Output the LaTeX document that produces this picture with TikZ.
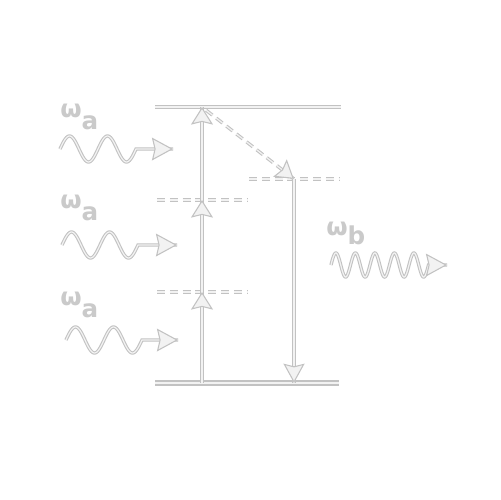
\documentclass[tikz,border=0pt]{standalone}
\usepackage{fontspec}
\newfontfamily\lblfont{DejaVu Sans}
\usetikzlibrary{arrows.meta,decorations.markings}
\definecolor{lineC}{RGB}{194,194,194}
\definecolor{fillC}{RGB}{242,242,242}
\definecolor{textC}{RGB}{202,202,202}
\tikzset{
  dline/.style={draw=lineC, line width=0.6pt, double=fillC, double distance=0.7pt},
  groundline/.style={dline, double distance=1.7pt},
  dashline/.style={dline, dash pattern=on 4.5pt off 2.8pt},
  headend/.style 2 args={decoration={markings, mark=at position 1 with
      {\pgfsetinnerlinewidth{0pt}\arrow[solid, lineC, line width=0.6pt]{Stealth[length=#1, width=#2, inset=1.5pt, fill=fillC]}}},
    postaction={decorate}},
  freq/.style={text=textC, font=\lblfont\bfseries\fontsize{14}{14}\selectfont, inner sep=0pt, anchor=base west},
}
\begin{document}
\begin{tikzpicture}[x=0.02cm, y=-0.02cm]
\path[fill=white] (0,0) rectangle (500,500);
\useasboundingbox (0,0) rectangle (500,500);
% energy levels
\draw[groundline] (155,383) -- (339,383);
\draw[dline] (155,107) -- (341,107);
\draw[dashline] (249,179) -- (340,179);
\draw[dashline] (157,200) -- (247,200);
\draw[dashline] (157,292) -- (247,292);
% three-step absorption
\coordinate (g1) at (202,383);
\coordinate (v1) at (202,292);
\coordinate (v2) at (202,200);
\coordinate (top) at (202,107);
\coordinate (e1) at (294,179);
\coordinate (g2) at (294,383);
\draw[dline, headend={10pt}{12.5pt}] (g1) -- (v1);
\draw[dline, headend={10pt}{12.5pt}] (v1) -- (v2);
\draw[dline, headend={10pt}{12.5pt}] (v2) -- (top);
% relaxation, then emission
\draw[dashline, headend={10pt}{12.5pt}, shorten <=3pt] (top) -- (e1);
\draw[dline, headend={11pt}{12pt}] (e1) -- (g2);
% incoming photons
\foreach \n/\xs/\yc/\xt in {1/60/149/173, 2/62/245/177, 3/66/340/178} {
  \coordinate (tip\n) at (\xt,\yc);
  \draw[dline, headend={12pt}{13pt}] plot[domain=0:2, samples=70, smooth, variable=\t]
    ({\xs+38*\t},{\yc-13*sin(360*\t)}) -- (tip\n);
}
\node[freq] (wa1) at (60,117) {ω\raisebox{-7pt}{a}};
\node[freq] (wa2) at (60,208) {ω\raisebox{-7pt}{a}};
\node[freq] (wa3) at (60,305) {ω\raisebox{-7pt}{a}};
% emitted photon
\coordinate (tipb) at (447,265);
\draw[dline, headend={12pt}{13pt}] plot[domain=0:5, samples=150, smooth, variable=\t]
  ({331+19.5*\t},{265-12*sin(360*\t)}) -- (tipb);
\node[freq] (wb) at (326,235) {ω\raisebox{-5.5pt}{b}};
\end{tikzpicture}
\end{document}
